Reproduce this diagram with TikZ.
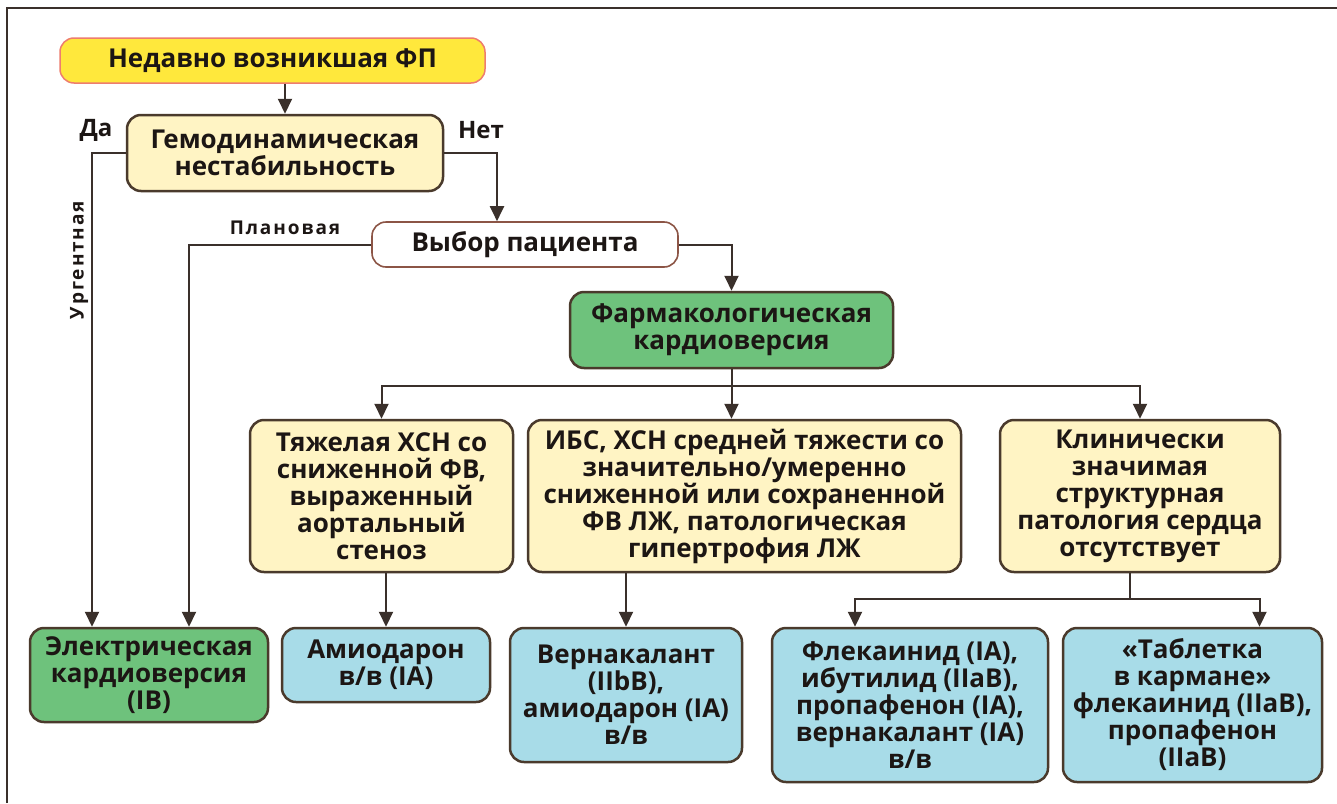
\documentclass[tikz,border=0pt]{standalone}
\usepackage{fontspec}
\setmainfont{Open Sans}
\newfontfamily\spacedfont[LetterSpace=10]{Open Sans}
\usetikzlibrary{arrows.meta}

\definecolor{lineclr}{HTML}{3A302B}
\definecolor{boxline}{HTML}{4A3A2C}
\definecolor{startfill}{HTML}{FFE83C}
\definecolor{startline}{HTML}{EE7D6E}
\definecolor{creamfill}{HTML}{FFF4C4}
\definecolor{greenfill}{HTML}{6EC27C}
\definecolor{bluefill}{HTML}{A8DCE8}
\definecolor{textclr}{HTML}{1C1614}

\newcommand{\boxfont}{\fontsize{26}{27}\selectfont\bfseries}
\newcommand{\tagfont}{\fontsize{24}{26}\selectfont\bfseries}
\newcommand{\smallfont}{\spacedfont\fontsize{19}{22}\selectfont\bfseries}

\tikzset{
  box/.style={draw=boxline, line width=2.5pt, rounded corners=14pt,
    align=center, inner sep=0pt, text=textclr, font=\boxfont},
  startbox/.style={box, draw=startline, line width=1.5pt, fill=startfill},
  condbox/.style={box, fill=creamfill},
  greenbox/.style={box, fill=greenfill},
  drugbox/.style={box, fill=bluefill},
  choicebox/.style={box, draw=startline!40!boxline, line width=1.6pt, fill=white},
  arr/.style={draw=lineclr, line width=2pt, -{Triangle[length=15pt,width=14pt]}},
  link/.style={draw=lineclr, line width=2pt},
  tag/.style={text=textclr, font=\tagfont, inner sep=0pt},
}

\begin{document}
\begin{tikzpicture}[x=1pt,y=-1pt]
  \useasboundingbox (0,0) rectangle (1337,803);
  \fill[white] (0,0) rectangle (1337,803);
  \draw[lineclr, line width=1.6pt] (7,803) -- (7,8) -- (1337,8);

  % first row
  \node[startbox, minimum width=425pt, minimum height=45pt] (start) at (272.5,60.5) {Недавно возникшая ФП};
  \node[condbox, minimum width=316pt, minimum height=76pt] (hemo) at (285,153) {Гемодинамическая\\нестабильность};
  \node[choicebox, minimum width=306pt, minimum height=45pt] (choice) at (525,244.5) {Выбор пациента};
  \node[greenbox, minimum width=323pt, minimum height=76pt] (pharm) at (731.5,330) {Фармакологическая\\кардиоверсия};

  % conditions
  \node[condbox, minimum width=263pt, minimum height=152pt] (severe) at (381.5,496)
    {Тяжелая ХСН со\\сниженной ФВ,\\выраженный\\аортальный\\стеноз};
  \node[condbox, minimum width=433pt, minimum height=152pt] (ibs) at (744.5,496)
    {ИБС, ХСН средней тяжести со\\значительно/умеренно\\сниженной или сохраненной\\ФВ ЛЖ, патологическая\\гипертрофия ЛЖ};
  \node[condbox, minimum width=280pt, minimum height=152pt] (nostruct) at (1140,496)
    {Клинически\\значимая\\структурная\\патология сердца\\отсутствует};

  % treatments
  \node[greenbox, minimum width=238pt, minimum height=94pt] (electric) at (149,675)
    {Электрическая\\кардиоверсия\\(IB)};
  \node[drugbox, minimum width=208pt, minimum height=74pt] (amio) at (386,665)
    {Амиодарон\\в/в (IA)};
  \node[drugbox, minimum width=232pt, minimum height=134pt] (verna) at (626,695)
    {Вернакалант\\(IIbB),\\амиодарон (IA)\\в/в};
  \node[drugbox, minimum width=276pt, minimum height=154pt] (flec) at (910,705)
    {Флекаинид (IA),\\ибутилид (IIaB),\\пропафенон (IA),\\вернакалант (IA)\\в/в};
  \node[drugbox, minimum width=259pt, minimum height=154pt] (pill) at (1192.5,705)
    {«Таблетка\\в кармане»\\флекаинид (IIaB),\\пропафенон\\(IIaB)};

  % labels
  \node[tag] (yes) at (96,130) {Да};
  \node[tag] (no) at (481,130) {Нет};
  \node[tag, font=\smallfont] (planned) at (285,228) {Плановая};
  \node[tag, font=\smallfont, rotate=90] (urgent) at (79,260) {Ургентная};

  % connectors
  \draw[arr] (hemo.north |- start.south) -- (hemo.north);
  \draw[arr] (hemo.west) -| ([xshift=-57pt]electric.north);
  \draw[arr] (hemo.east) -| ([xshift=-28pt]choice.north);
  \draw[arr] (choice.west) -| ([xshift=40pt]electric.north);
  \draw[arr] (choice.east) -| (pharm.north);

  \draw[link] (pharm.south) -- ++(0,17) coordinate (split);
  \draw[arr] (split) -| (severe.north);
  \draw[arr] (split) -| (nostruct.north);
  \draw[arr] (split) -- (split |- ibs.north);

  \draw[arr] (amio.north |- severe.south) -- (amio.north);
  \draw[arr] (verna.north |- ibs.south) -- (verna.north);

  \draw[link] ([xshift=-10pt]nostruct.south) -- ++(0,26) coordinate (split2);
  \draw[arr] (split2) -| ([xshift=-55pt]flec.north);
  \draw[arr] (split2) -| ([xshift=67pt]pill.north);
\end{tikzpicture}
\end{document}
